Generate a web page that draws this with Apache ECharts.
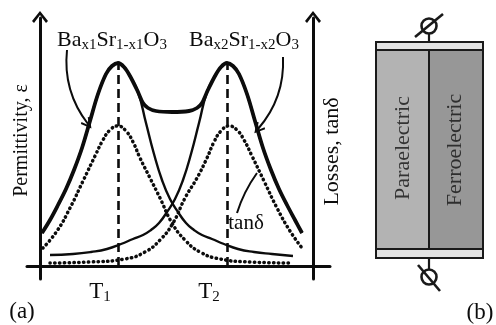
<!DOCTYPE html>
<html>
<head>
<meta charset="utf-8">
<script src="https://cdn.jsdelivr.net/npm/echarts@6/dist/echarts.min.js"></script>
<style>
  html, body { margin: 0; padding: 0; background: #fff; }
  #chart { width: 496px; height: 325px; }
</style>
</head>
<body>
<div id="chart"></div>
<script>
// ---- (a) permittivity and loss curves of two Ba(x)Sr(1-x)O3 layers ----
// temperature in arbitrary units, origin at the axes crossing

// solid curve: permittivity of the Bax1Sr1-x1O3 layer
const tempX1 = [2, 10, 18, 26, 34, 42, 50, 58, 66, 72, 78, 84, 90, 98, 106, 114, 122, 130, 138, 146, 154, 162, 172, 184, 198, 214, 232, 253];
const permX1 = [33, 46, 61, 77, 96, 118, 145, 172, 192, 200, 203, 199, 190, 174, 143, 112, 86, 67, 54, 43, 36, 31, 27, 22, 17, 14, 12, 10];

// solid curve: permittivity of the Bax2Sr1-x2O3 layer
const tempX2 = [10, 33, 51, 67, 81, 93, 103, 111, 119, 127, 135, 143, 151, 159, 167, 175, 181, 187, 193, 199, 207, 215, 223, 231, 239, 247, 255, 262];
const permX2 = [11, 12, 14, 17, 22, 27, 31, 36, 43, 54, 67, 86, 112, 143, 174, 190, 199, 203, 200, 192, 172, 145, 118, 96, 77, 61, 46, 33];

// thick curve: permittivity of the two-layer structure
const tempStack = [2, 10, 18, 26, 34, 42, 50, 58, 66, 72, 78, 84, 90, 98, 103, 108, 116, 132, 149, 157, 162, 167, 175, 181, 187, 193, 199, 207, 215, 223, 231, 239, 247, 255, 262];
const permStack = [33, 46, 61, 77, 96, 118, 145, 172, 192, 200, 203, 199, 190, 174, 163, 158, 155, 154, 155, 158, 163, 174, 190, 199, 203, 200, 192, 172, 145, 118, 96, 77, 61, 46, 33];

// dotted curves: dielectric losses tan(delta)
const tempLoss1 = [3, 17, 30, 43, 55, 63, 70, 78, 86, 93, 100, 110, 120, 132, 145, 160, 180, 210, 250];
const lossX1 = [18, 35, 58, 85, 110, 126, 136, 140, 135, 124, 108, 88, 68, 43, 26, 14, 7, 4, 3];
const tempLoss2 = [10, 50, 85, 105, 120, 133, 145, 157, 167, 174, 181, 189, 197, 204, 212, 224, 237, 250, 262];
const lossX2 = [3, 4, 7, 14, 26, 43, 68, 88, 108, 124, 135, 140, 136, 126, 110, 85, 58, 35, 18];

// Curie temperatures of the two compositions
const curieTemps = [78, 187];
const curieSubscripts = ['1', '2'];

// annotation arrows: [start, end] in data units
const arrowLayer1 = [[27, 216], [48, 142]];
const arrowLayer2 = [[243, 209], [218, 137]];
const lossLeader = [[197, 53], [217, 93]];

const INK = '#0c0c0c';
const SERIF = '"Liberation Serif", "Times New Roman", serif';
const axisChevron = 'path://M8,0 L16,10 L14,11.8 L8,4 L2,11.8 L0,10 Z';
const pointerChevron = 'path://M6,0 L12,10 L10.2,11.2 L6,3.6 L1.8,11.2 L0,10 Z';

const pairs = (xs, ys) => xs.map((x, i) => [x, ys[i]]);
const peakOf = (xs, ys, t) => ys[xs.indexOf(t)];

const chart = echarts.init(document.getElementById('chart'), null, { renderer: 'canvas' });

const solidLine = (name, xs, ys, width, extra) => Object.assign({
  name, type: 'line', data: pairs(xs, ys), smooth: 0.5,
  showSymbol: false, symbol: 'none', silent: true,
  lineStyle: { color: INK, width: width }
}, extra || {});

const dottedLine = (name, xs, ys) => ({
  name, type: 'line', yAxisIndex: 1, data: pairs(xs, ys), smooth: 0.5,
  showSymbol: false, symbol: 'none', silent: true,
  lineStyle: { color: INK, width: 3.5, type: [0.4, 4.4], cap: 'round' }
});

chart.setOption({
  animation: false,
  backgroundColor: '#ffffff',
  textStyle: { fontFamily: SERIF, color: INK },
  grid: { left: 27, right: 166, top: 18, bottom: 46, containLabel: false },
  xAxis: {
    type: 'value', min: -13, max: 290,
    axisLine: { onZero: true, lineStyle: { color: INK, width: 3 } },
    axisTick: { show: false },
    splitLine: { show: false },
    axisLabel: {
      customValues: curieTemps,
      margin: 0,
      padding: [0, 36, 0, 0],
      formatter: v => '{t|T}{s|' + curieSubscripts[curieTemps.indexOf(v)] + '}',
      rich: {
        t: { fontFamily: SERIF, fontSize: 23, color: INK, lineHeight: 26 },
        s: { fontFamily: SERIF, fontSize: 15, color: INK, lineHeight: 14, verticalAlign: 'bottom' }
      }
    }
  },
  yAxis: [{
    type: 'value', min: -13, max: 248, position: 'left',
    axisLine: {
      show: true, onZero: true,
      symbol: ['none', axisChevron], symbolSize: [16, 11.8], symbolOffset: [0, 1],
      lineStyle: { color: INK, width: 3 }
    },
    axisTick: { show: false }, axisLabel: { show: false }, splitLine: { show: false },
    name: 'Permittivity, ε', nameLocation: 'middle', nameRotate: 90, nameGap: -5,
    nameTextStyle: { fontFamily: SERIF, fontSize: 20, color: INK, padding: [0, 0, 0, 16] }
  }, {
    type: 'value', min: -13, max: 248, position: 'right', offset: -17,
    axisLine: {
      show: true, onZero: false,
      symbol: ['none', axisChevron], symbolSize: [16, 11.8], symbolOffset: [0, 1],
      lineStyle: { color: INK, width: 3 }
    },
    axisTick: { show: false }, axisLabel: { show: false }, splitLine: { show: false },
    name: 'Losses, tanδ', nameLocation: 'middle', nameRotate: 90, nameGap: 8,
    nameTextStyle: { fontFamily: SERIF, fontSize: 22, color: INK, padding: [0, 6, 0, 0] }
  }],
  series: [
    solidLine('Bax1Sr1-x1O3', tempX1, permX1, 2.4, {
      markLine: {
        silent: true, symbol: ['none', 'none'], label: { show: false },
        lineStyle: { color: INK, width: 2.6, type: [9, 5] },
        data: [
          [{ coord: [curieTemps[0], 0] }, { coord: [curieTemps[0], peakOf(tempX1, permX1, curieTemps[0])] }],
          [{ coord: [curieTemps[1], 0] }, { coord: [curieTemps[1], peakOf(tempX2, permX2, curieTemps[1])] }]
        ]
      }
    }),
    solidLine('Bax2Sr1-x2O3', tempX2, permX2, 2.4),
    solidLine('stack', tempStack, permStack, 3.8, { z: 3, smooth: 0.35 }),
    dottedLine('tanδ 1', tempLoss1, lossX1),
    dottedLine('tanδ 2', tempLoss2, lossX2),
    {
      type: 'lines', coordinateSystem: 'cartesian2d', silent: true,
      symbol: ['none', pointerChevron], symbolSize: [12, 11.2],
      lineStyle: { color: INK, width: 2, opacity: 1 },
      data: [
        { coords: arrowLayer1, lineStyle: { curveness: -0.2 } },
        { coords: arrowLayer2, lineStyle: { curveness: 0.2 } }
      ]
    },
    {
      type: 'lines', coordinateSystem: 'cartesian2d', silent: true,
      symbol: ['none', 'none'],
      lineStyle: { color: INK, width: 2, opacity: 1 },
      data: [{ coords: lossLeader, lineStyle: { curveness: 0.08 } }]
    }
  ]
});

// text annotations anchored in data units
const px = p => chart.convertToPixel({ gridIndex: 0 }, p);
const formulaRich = {
  m: { fontFamily: SERIF, fontSize: 22, fill: INK, color: INK, lineHeight: 26 },
  s: { fontFamily: SERIF, fontSize: 15, fill: INK, color: INK, lineHeight: 11, verticalAlign: 'bottom' }
};
const formula = (at, x) => {
  const p = px(at);
  return {
    type: 'text', x: p[0], y: p[1], silent: true,
    style: {
      text: '{m|Ba}{s|x' + x + '}{m|Sr}{s|1-x' + x + '}{m|O}{s|3}',
      rich: formulaRich, fill: INK, align: 'center', verticalAlign: 'middle'
    }
  };
};
const tanPos = px([206, 43]);

// ---- (b) two-layer capacitor sketch ----
const PARA = '#b3b3b3', FERRO = '#979797', PLATE = '#e2e2e2', EDGE = '#1a1a1a';
const bx = 376, bw = 107, by = 42, bh = 216, mid = 429;
const line = (x1, y1, x2, y2, w) => ({ type: 'line', silent: true, shape: { x1, y1, x2, y2 }, style: { stroke: EDGE, lineWidth: w } });

chart.setOption({
  graphic: [
    formula([72, 226], 1),
    formula([204, 226], 2),
    { type: 'text', x: tanPos[0], y: tanPos[1], silent: true,
      style: { text: 'tanδ', fontFamily: SERIF, fontSize: 21, fill: INK, align: 'center', verticalAlign: 'middle' } },
    { type: 'text', x: 22, y: 312, silent: true,
      style: { text: '(a)', fontFamily: SERIF, fontSize: 23, fill: INK, align: 'center', verticalAlign: 'middle' } },

    { type: 'rect', silent: true, shape: { x: bx, y: by, width: bw, height: 8 }, style: { fill: PLATE } },
    { type: 'rect', silent: true, shape: { x: bx, y: by + bh - 9, width: bw, height: 9 }, style: { fill: PLATE } },
    { type: 'rect', silent: true, shape: { x: bx, y: by + 8, width: mid - bx, height: bh - 17 }, style: { fill: PARA } },
    { type: 'rect', silent: true, shape: { x: mid, y: by + 8, width: bx + bw - mid, height: bh - 17 }, style: { fill: FERRO } },
    { type: 'rect', silent: true, shape: { x: bx, y: by, width: bw, height: bh }, style: { fill: 'none', stroke: EDGE, lineWidth: 2 } },
    line(bx, by + 8, bx + bw, by + 8, 2.2),
    line(bx, by + bh - 9, bx + bw, by + bh - 9, 2.2),
    line(mid, by + 8, mid, by + bh - 9, 2),
    { type: 'text', x: 403, y: 148, rotation: Math.PI / 2, silent: true,
      style: { text: 'Paraelectric', fontFamily: SERIF, fontSize: 22, fill: '#333333', align: 'center', verticalAlign: 'middle' } },
    { type: 'text', x: 455, y: 150, rotation: Math.PI / 2, silent: true,
      style: { text: 'Ferroelectric', fontFamily: SERIF, fontSize: 22, fill: '#2e2e2e', align: 'center', verticalAlign: 'middle' } },

    // terminals
    line(mid, by - 9, mid, by, 2.2),
    { type: 'circle', silent: true, shape: { cx: mid, cy: 26, r: 7.5 }, style: { fill: 'none', stroke: EDGE, lineWidth: 2.6 } },
    line(415, 37, 443, 14, 2.6),
    line(mid, by + bh, mid, by + bh + 12, 2.2),
    { type: 'circle', silent: true, shape: { cx: mid, cy: 277, r: 7.5 }, style: { fill: 'none', stroke: EDGE, lineWidth: 2.6 } },
    line(418, 265, 440, 291, 2.6),
    { type: 'text', x: 480, y: 313, silent: true,
      style: { text: '(b)', fontFamily: SERIF, fontSize: 23, fill: INK, align: 'center', verticalAlign: 'middle' } }
  ]
});
</script>
</body>
</html>
